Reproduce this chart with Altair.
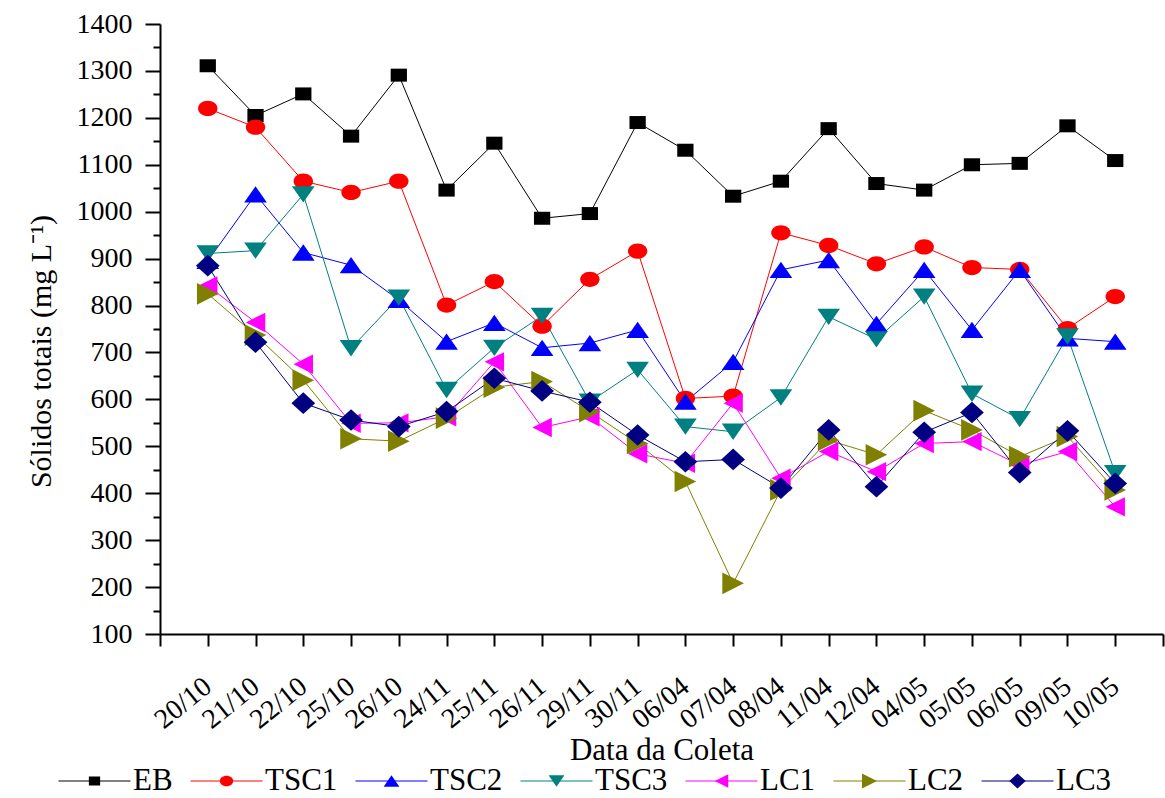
import altair as alt
import pandas as pd

dates = ["20/10", "21/10", "22/10", "25/10", "26/10", "24/11", "25/11", "26/11",
         "29/11", "30/11", "06/04", "07/04", "08/04", "11/04", "12/04", "04/05",
         "05/05", "06/05", "09/05", "10/05"]

series_names = ["EB", "TSC1", "TSC2", "TSC3", "LC1", "LC2", "LC3"]

EB = [1311, 1205, 1251, 1161, 1291, 1046, 1146, 986, 996, 1190,
      1131, 1033, 1065, 1177, 1060, 1046, 1100, 1103, 1183, 1109]
TSC1 = [1220, 1180, 1065, 1041, 1065, 801, 851, 756, 856, 916,
        602, 607, 955, 928, 889, 925, 881, 877, 751, 819]
TSC2 = [895, 1037, 913, 886, 812, 723, 763, 710, 720, 748,
        595, 680, 876, 897, 761, 876, 748, 876, 730, 723]
TSC3 = [911, 917, 1037, 709, 817, 620, 710, 778, 595, 663,
        542, 531, 604, 776, 728, 819, 612, 558, 734, 443]
LC1 = [842, 764, 675, 549, 550, 563, 680, 540, 563, 484,
       464, 592, 432, 489, 446, 506, 510, 460, 489, 371]
LC2 = [825, 737, 641, 516, 511, 560, 626, 638, 574, 506,
       425, 208, 407, 513, 482, 576, 535, 478, 521, 407]
LC3 = [885, 722, 592, 556, 542, 574, 645, 618, 594, 524,
       467, 472, 411, 535, 414, 530, 572, 444, 533, 421]

colors = ["#000000", "#FF0000", "#0000FF", "#008080", "#FF00FF", "#808000", "#000080"]

marker_paths = [
    "M-0.94,-0.75H0.94V0.75H-0.94Z",
    "M-1.12,0A1.12,0.88 0 1,0 1.12,0A1.12,0.88 0 1,0 -1.12,0Z",
    "M0,-0.94L1.31,0.94L-1.31,0.94Z",
    "M0,0.94L1.31,-0.94L-1.31,-0.94Z",
    "M-1.12,0L1.12,-1.12L1.12,1.12Z",
    "M1.25,0L-1.25,-1.25L-1.25,1.25Z",
    "M0,-1.25L1.37,0L0,1.25L-1.37,0Z",
]

rows = []
for name, vals in zip(series_names, [EB, TSC1, TSC2, TSC3, LC1, LC2, LC3]):
    for i, v in enumerate(vals):
        rows.append({"idx": i, "serie": name, "valor": v})
df = pd.DataFrame(rows)

SERIF = "Liberation Serif, Times New Roman, serif"

n = len(dates)
arr = "[" + ",".join("'%s'" % d for d in dates) + "]"
x_label_expr = "datum.value >= 0 && datum.value < %d ? %s[datum.value] : ''" % (n, arr)

x_enc = alt.X(
    "idx:Q",
    scale=alt.Scale(domain=[-1, n], nice=False, zero=False),
    axis=alt.Axis(
        values=list(range(-1, n + 1)),
        labelExpr=x_label_expr,
        labelAngle=-39,
        labelAlign="right",
        labelBaseline="middle",
        labelPadding=37,
        labelFontSize=28,
        labelOverlap=False,
        tickSize=12,
        title="Data da Coleta",
        titleFontSize=31,
        titleY=125,
        titleBaseline="alphabetic",
    ),
)

y_enc = alt.Y(
    "valor:Q",
    scale=alt.Scale(domain=[100, 1400], nice=False, zero=False),
    axis=alt.Axis(
        values=list(range(100, 1401, 50)),
        format="d",
        labelExpr="datum.value % 100 === 0 ? datum.label : ''",
        labelOverlap=False,
        labelFontSize=28,
        labelPadding=13,
        tickSize={"condition": {"test": "datum.value % 100 === 0", "value": 15}, "value": 7},
        title="Sólidos totais (mg L⁻¹)",
        titleFontSize=30,
        titleAngle=270,
        titleAlign="center",
        titleBaseline="alphabetic",
        titleX=-110,
        titleY=327,
    ),
)

LEG_X = -102
LEG_Y = 737
LINE_LEN = 72


def leg(lx, label_offset, sym_size, label_opacity):
    return alt.Legend(
        title=None,
        orient="none",
        legendX=lx,
        legendY=LEG_Y,
        direction="horizontal",
        symbolSize=sym_size,
        symbolStrokeWidth=1,
        symbolOpacity=1,
        clipHeight=40,
        labelFont=SERIF,
        labelFontSize=31,
        labelColor="black",
        labelOpacity=label_opacity,
        labelOffset=label_offset,
        columnPadding=17,
    )


leg_lines = leg(LEG_X, 2, LINE_LEN * LINE_LEN, 1)
leg_marks = leg(LEG_X + 21, 44, 144, 0)

lines = alt.Chart(df).mark_line(strokeWidth=1).encode(
    x=x_enc,
    y=y_enc,
    color=alt.Color("serie:N", sort=series_names, scale=alt.Scale(range=colors), legend=leg_lines),
)

points = alt.Chart(df).mark_point(filled=True, size=300, opacity=1).encode(
    x=x_enc,
    y=y_enc,
    fill=alt.Fill("serie:N", scale=alt.Scale(domain=series_names, range=colors), legend=leg_marks),
    shape=alt.Shape("serie:N", scale=alt.Scale(domain=series_names, range=marker_paths), legend=leg_marks),
)

chart = alt.layer(lines, points).properties(
    width=1003,
    height=610,
    padding={"left": 160, "top": 24, "right": 2, "bottom": 164},
    autosize=alt.AutoSizeParams(type="none"),
    background="white",
).configure_view(stroke=None).configure_axis(
    labelFont=SERIF,
    titleFont=SERIF,
    titleFontWeight="normal",
    labelColor="black",
    titleColor="black",
    domainColor="black",
    tickColor="black",
    domainWidth=2,
    tickWidth=2,
    grid=False,
)

chart.save("out.html", embed_options={"renderer": "svg", "actions": False})
